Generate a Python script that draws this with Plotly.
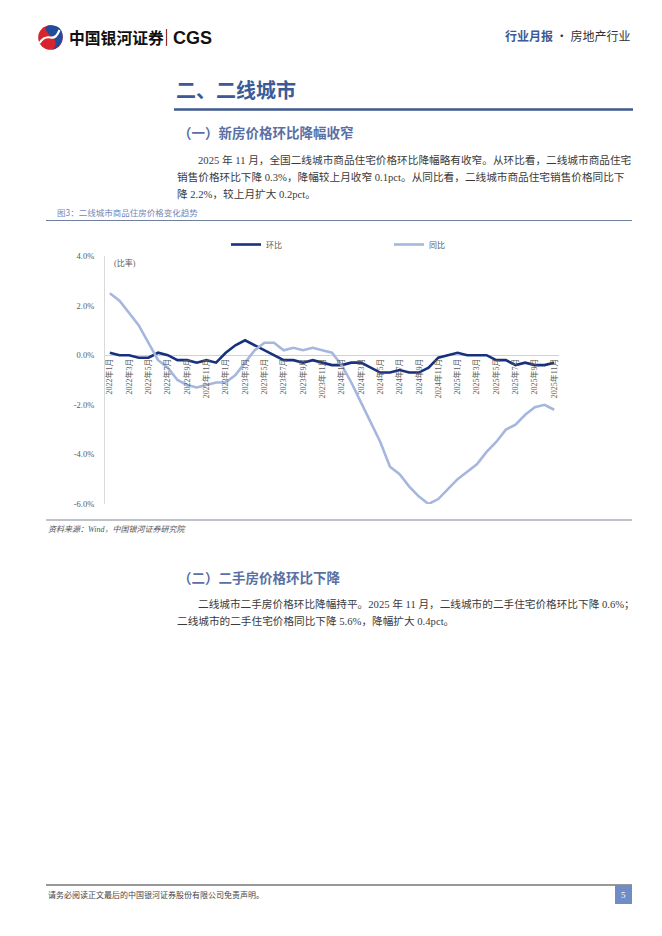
import plotly.graph_objects as go

# ---------------- data ----------------
months = [
    "2022年1月", "2022年2月", "2022年3月", "2022年4月", "2022年5月", "2022年6月",
    "2022年7月", "2022年8月", "2022年9月", "2022年10月", "2022年11月", "2022年12月",
    "2023年1月", "2023年2月", "2023年3月", "2023年4月", "2023年5月", "2023年6月",
    "2023年7月", "2023年8月", "2023年9月", "2023年10月", "2023年11月", "2023年12月",
    "2024年1月", "2024年2月", "2024年3月", "2024年4月", "2024年5月", "2024年6月",
    "2024年7月", "2024年8月", "2024年9月", "2024年10月", "2024年11月", "2024年12月",
    "2025年1月", "2025年2月", "2025年3月", "2025年4月", "2025年5月", "2025年6月",
    "2025年7月", "2025年8月", "2025年9月", "2025年10月", "2025年11月",
]
mom = [0.1, 0.0, 0.0, -0.1, -0.1, 0.1, 0.0, -0.2, -0.2, -0.3, -0.2, -0.3,
       0.1, 0.4, 0.6, 0.4, 0.2, 0.0, -0.2, -0.2, -0.3, -0.2, -0.3, -0.4,
       -0.4, -0.3, -0.3, -0.5, -0.7, -0.7, -0.6, -0.7, -0.7, -0.5, -0.1, 0.0,
       0.1, 0.0, 0.0, 0.0, -0.2, -0.2, -0.4, -0.3, -0.4, -0.4, -0.3]
yoy = [2.5, 2.2, 1.7, 1.2, 0.5, -0.2, -0.5, -1.0, -1.2, -1.3, -1.2, -1.1,
       -1.1, -0.8, -0.3, 0.2, 0.5, 0.5, 0.2, 0.3, 0.2, 0.3, 0.2, 0.1,
       -0.4, -1.1, -1.9, -2.7, -3.5, -4.5, -4.8, -5.3, -5.7, -6.0, -5.8, -5.4,
       -5.0, -4.7, -4.4, -3.9, -3.5, -3.0, -2.8, -2.4, -2.1, -2.0, -2.2]
series_names = ["环比", "同比"]
x_tick_labels = months[::2]
y_tick_vals = [4, 2, 0, -2, -4, -6]
y_tick_text = ["4.0%", "2.0%", "0.0%", "-2.0%", "-4.0%", "-6.0%"]

# ---------------- page geometry ----------------
W, H = 662, 936
L, R, T, B = 105, 559, 256, 504          # plot area in pixels
PW, PH = R - L, B - T

def px(x):
    return (x - L) / PW

def py(y):
    return (B - y) / PH

SERIF = "Liberation Serif, Noto Sans CJK SC, serif"
CJK = "Noto Sans CJK SC, sans-serif"
BLUE_T = "#3c5a96"
DARK = "#17317f"
LIGHT = "#a6b7de"

fig = go.Figure()
fig.add_trace(go.Scatter(x=months, y=mom, name=series_names[0], mode="lines",
                         line=dict(color=DARK, width=2.6)))
fig.add_trace(go.Scatter(x=months, y=yoy, name=series_names[1], mode="lines",
                         line=dict(color=LIGHT, width=2.6)))

ann = []

def text(t, x, y, size, color="#333333", anchor="left", family=SERIF, vanchor="middle"):
    ann.append(dict(text=t, x=px(x), y=py(y), xref="paper", yref="paper",
                    xanchor=anchor, yanchor=vanchor, showarrow=False,
                    font=dict(size=size, color=color, family=family)))

BODY = 10.65

# header
text("<b>中国银河证券</b>", 67, 37, 15.8, "#111111", family=CJK)
text("<b>CGS</b>", 170.5, 37.5, 18, "#111111", family="Liberation Sans, Arial, sans-serif")
text("<b><span style='color:%s'>行业月报</span></b> · 房地产行业" % BLUE_T, 632, 35, 12,
     "#333333", anchor="right", family=CJK)

# section heading
text("<b>二、二线城市</b>", 174, 90, 20, BLUE_T, family=CJK)
text("<b>（一）新房价格环比降幅收窄</b>", 176, 132, 13.5, "#5a6fa3", family=CJK)
text("2025 年 11 月，全国二线城市商品住宅价格环比降幅略有收窄。从环比看，二线城市商品住宅",
     196, 160, BODY, "#3a3a3a")
text("销售价格环比下降 0.3%，降幅较上月收窄 0.1pct。从同比看，二线城市商品住宅销售价格同比下",
     175, 177, BODY, "#3a3a3a")
text("降 2.2%，较上月扩大 0.2pct。", 175, 194, BODY, "#3a3a3a")

# figure caption
text("图3：二线城市商品住房价格变化趋势", 55, 212, 8.5, "#7388bb", family=CJK)
text("(比率)", 112, 263, 8, "#595959")
text("<i>资料来源：Wind，中国银河证券研究院</i>", 46, 529, 8, "#555555")

# second section
text("<b>（二）二手房价格环比下降</b>", 176, 577, 13.5, "#5a6fa3", family=CJK)
text("二线城市二手房价格环比降幅持平。2025 年 11 月，二线城市的二手住宅价格环比下降 0.6%；",
     196, 604, BODY, "#3a3a3a")
text("二线城市的二手住宅价格同比下降 5.6%，降幅扩大 0.4pct。", 175, 621, BODY, "#3a3a3a")

# footer
text("请务必阅读正文最后的中国银河证券股份有限公司免责声明。", 46, 895, 8, "#444444")
text("5", 623.5, 895, 9, "#ffffff", anchor="center")

shapes = []

def hline(x0, x1, y, color, width):
    shapes.append(dict(type="line", xref="paper", yref="paper",
                       x0=px(x0), x1=px(x1), y0=py(y), y1=py(y),
                       line=dict(color=color, width=width)))

hline(174, 633, 109.5, "#3f5a92", 2.5)
hline(46, 632, 220.5, "#6f7f9f", 1)
hline(46, 632, 520, "#7f8593", 1)
hline(46, 632, 885, "#333333", 1)
shapes.append(dict(type="rect", xref="paper", yref="paper",
                   x0=px(615), x1=px(632), y0=py(885), y1=py(904),
                   fillcolor="#6f8cc6", line=dict(width=0)))
# logo separator
shapes.append(dict(type="line", xref="paper", yref="paper",
                   x0=px(166.5), x1=px(166.5), y0=py(29), y1=py(46),
                   line=dict(color="#9a2a2a", width=1.2)))

def path(pts_cmds):
    out = []
    for c in pts_cmds:
        if isinstance(c, str):
            out.append(c)
        else:
            out.append("%.5f,%.5f" % (px(c[0]), py(c[1])))
    return " ".join(out)

# logo emblem
cx, cy, r = 50.5, 37.5, 12.3
shapes.append(dict(type="circle", xref="paper", yref="paper",
                   x0=px(cx - r), x1=px(cx + r), y0=py(cy + r), y1=py(cy - r),
                   fillcolor="#d7252b", line=dict(width=0)))
shapes.append(dict(type="path", xref="paper", yref="paper",
                   path=path(["M", (48, 25.4), "Q", (63.5, 24.5), (62.6, 38),
                              "Q", (61.5, 47), (53, 49.5), "Q", (58, 43), (53.5, 38.5),
                              "Q", (47.5, 34), (45, 28), "Z"]),
                   fillcolor="#1f4c9b", line=dict(width=0)))
shapes.append(dict(type="path", xref="paper", yref="paper",
                   path=path(["M", (39.5, 43), "Q", (44, 36), (50.5, 37.5),
                              "Q", (56, 39), (59.5, 30)]),
                   line=dict(color="#ffffff", width=2.2)))

fig.update_layout(
    width=W, height=H, autosize=False,
    margin=dict(l=L, r=W - R, t=T, b=H - B, pad=0),
    paper_bgcolor="#ffffff", plot_bgcolor="#ffffff",
    showlegend=True,
    legend=dict(orientation="h", x=px(226), y=py(244.5), xanchor="left", yanchor="middle",
                entrywidth=118, entrywidthmode="pixels",
                font=dict(size=8, color="#595959", family=SERIF),
                bgcolor="rgba(0,0,0,0)", borderwidth=0, itemwidth=30),
    xaxis=dict(type="category", range=[-0.5, len(months) - 0.5],
               tickmode="array", tickvals=x_tick_labels, ticktext=x_tick_labels,
               tickangle=-90, ticks="", showline=False, showgrid=False, zeroline=False,
               anchor="free", position=py(356),
               tickfont=dict(size=8, color="#595959", family=SERIF)),
    yaxis=dict(range=[-6, 4], tickmode="array", tickvals=y_tick_vals, ticktext=y_tick_text,
               showgrid=False, zeroline=True, zerolinecolor="#c9d1e3", zerolinewidth=1,
               showline=True, linecolor="#d9d9d9", linewidth=1, ticks="",
               ticklabelstandoff=8,
               tickfont=dict(size=8.5, color="#595959", family=SERIF)),
    annotations=ann,
    shapes=shapes,
)

fig.write_html("out.html", config={"displayModeBar": False},
               post_script="document.body.style.margin='0';document.body.style.padding='0';")
